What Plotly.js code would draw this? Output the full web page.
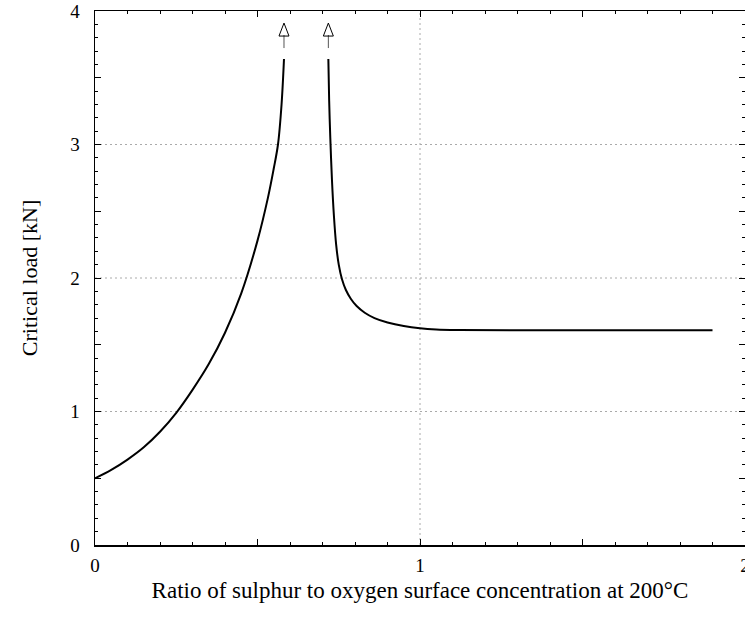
<!DOCTYPE html>
<html>
<head>
<meta charset="utf-8">
<script src="https://cdn.plot.ly/plotly-3.0.1.min.js"></script>
<style>html,body{margin:0;padding:0;background:#fff;}#chart{width:745px;height:628px;}</style>
</head>
<body>
<div id="chart"></div>
<script>
// Left branch of the critical-load curve (rises towards infinity)
var leftX = [0, 0.05, 0.1, 0.15, 0.2, 0.25, 0.3, 0.35, 0.4, 0.45, 0.5, 0.532, 0.55, 0.563, 0.574, 0.5815];
var leftY = [0.5, 0.563, 0.64, 0.732, 0.848, 0.99, 1.162, 1.355, 1.59, 1.885, 2.28, 2.6, 2.82, 3.0, 3.3, 3.64];
// Right branch (comes down from infinity and levels off)
var rightX = [0.718, 0.7205, 0.724, 0.729, 0.735, 0.742, 0.75, 0.76, 0.772, 0.787, 0.805, 0.83, 0.86, 0.9, 0.95, 1.0, 1.05, 1.12, 1.3, 1.9];
var rightY = [3.64, 3.33, 3.05, 2.74, 2.47, 2.25, 2.1, 1.99, 1.91, 1.845, 1.79, 1.74, 1.70, 1.667, 1.64, 1.623, 1.614, 1.61, 1.608, 1.608];
// Ticks and grid
var xTickVals = [0, 0.5, 1, 1.5, 2];
var xTickText = ['0', '', '1', '', '2'];
var yTickVals = [0, 0.5, 1, 1.5, 2, 2.5, 3, 3.5, 4];
var yTickText = ['0', '', '1', '', '2', '', '3', '', '4'];
var xGrid = [1];
var yGrid = [1, 2, 3];
var xTitle = 'Ratio of sulphur to oxygen surface concentration at 200°C';
var yTitle = 'Critical load [kN]';

var FONT = 'Liberation Serif, Times New Roman, serif';

var lineStyle = {color: '#000', width: 2, shape: 'spline', smoothing: 1};
var traces = [
  {x: leftX, y: leftY, mode: 'lines', line: lineStyle, hoverinfo: 'skip', showlegend: false},
  {x: rightX, y: rightY, mode: 'lines', line: lineStyle, hoverinfo: 'skip', showlegend: false}
];

var shapes = [];
xGrid.forEach(function (v) {
  shapes.push({type: 'line', xref: 'x', yref: 'paper', x0: v, x1: v, y0: 0, y1: 1,
    line: {color: '#aaaaaa', width: 1, dash: '2px,3px'}, layer: 'below'});
});
yGrid.forEach(function (v) {
  shapes.push({type: 'line', xref: 'paper', yref: 'y', x0: 0, x1: 1, y0: v, y1: v,
    line: {color: '#aaaaaa', width: 1, dash: '2px,3px'}, layer: 'below'});
});
// Arrows marking the branches going off to infinity
var arrowPts = [[leftX[leftX.length - 1], leftY[leftY.length - 1]], [rightX[0], rightY[0]]];
arrowPts.forEach(function (p) {
  shapes.push({type: 'path', xref: 'x', yref: 'y', xsizemode: 'pixel', ysizemode: 'pixel',
    xanchor: p[0], yanchor: p[1], path: 'M0,11 L0,24',
    line: {color: '#555', width: 1}});
  shapes.push({type: 'path', xref: 'x', yref: 'y', xsizemode: 'pixel', ysizemode: 'pixel',
    xanchor: p[0], yanchor: p[1], path: 'M-5,23 L0,36 L5,23 Z',
    line: {color: '#000', width: 1}, fillcolor: 'rgba(255,255,255,0)'});
});

var axisCommon = {
  showline: true, linecolor: '#000', linewidth: 1.5, mirror: 'ticks',
  ticks: 'inside', ticklen: 6, tickwidth: 1, tickcolor: '#000',
  showgrid: false, zeroline: false,
  tickfont: {family: FONT, size: 19, color: '#000'},
  tickmode: 'array', ticklabeloverflow: 'allow'
};

var layout = {
  width: 745, height: 628,
  margin: {l: 95, r: 0, t: 11, b: 83},
  paper_bgcolor: '#fff', plot_bgcolor: '#fff',
  showlegend: false,
  xaxis: Object.assign({}, axisCommon, {
    range: [0, 2], tickvals: xTickVals, ticktext: xTickText,
    ticklabelstandoff: 3,
    minor: {dtick: 0.1, ticks: 'inside', ticklen: 3, tickcolor: '#000', tickwidth: 1, showgrid: false},
    title: {text: xTitle, font: {family: FONT, size: 23, color: '#000'}, standoff: 6}
  }),
  yaxis: Object.assign({}, axisCommon, {
    range: [0, 4], tickvals: yTickVals, ticktext: yTickText,
    ticklabelstandoff: 10,
    minor: {dtick: 0.1, ticks: 'inside', ticklen: 3, tickcolor: '#000', tickwidth: 1, showgrid: false},
    title: {text: yTitle, font: {family: FONT, size: 22, color: '#000'}, standoff: 26}
  }),
  shapes: shapes
};

Plotly.newPlot('chart', traces, layout, {displayModeBar: false, staticPlot: true});
</script>
</body>
</html>
